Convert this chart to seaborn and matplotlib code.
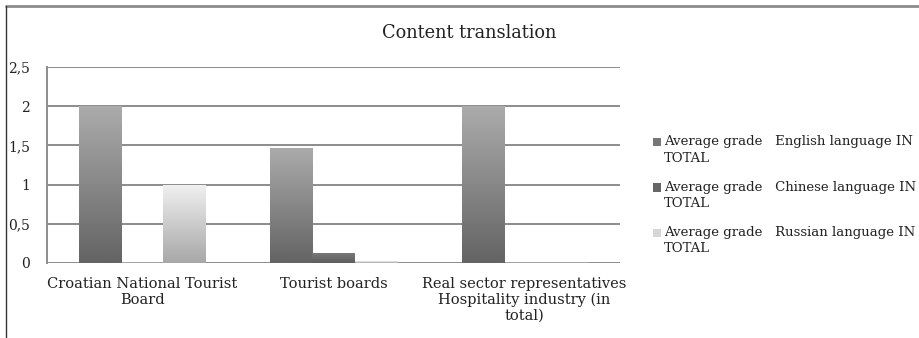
import matplotlib
matplotlib.use("Agg")
import matplotlib.pyplot as plt
import seaborn as sns
import numpy as np
import pandas as pd
from matplotlib.colors import LinearSegmentedColormap
from matplotlib.patches import Patch, Rectangle
from matplotlib.lines import Line2D
from matplotlib.legend_handler import HandlerPatch

groups = ["Croatian National Tourist\nBoard", "Tourist boards",
          "Real sector representatives\nHospitality industry (in\ntotal)"]
series = ["Average grade   English language IN\nTOTAL",
          "Average grade   Chinese language IN\nTOTAL",
          "Average grade   Russian language IN\nTOTAL"]
english = [2.0, 1.47, 2.0]
chinese = [0.0, 0.13, 0.0]
russian = [1.0, 0.02, 0.0]
yticks = [0, 0.5, 1, 1.5, 2, 2.5]
ytick_labels = ["0", "0,5", "1", "1,5", "2", "2,5"]

# gradient (bottom, top) per series and flat legend colours
grads = [("#646464", "#ababab"), ("#5e5e5e", "#7a7a7a"), ("#a8a8a8", "#f0f0f0")]
legend_cols = ["#777777", "#666666", "#d6d6d6"]

df = pd.DataFrame({
    "group": groups * 3,
    "series": [series[0]] * 3 + [series[1]] * 3 + [series[2]] * 3,
    "value": english + chinese + russian,
})


class TopSquare(HandlerPatch):
    # puts the legend square next to the first line of a two-line label
    def create_artists(self, legend, orig_handle, xdescent, ydescent,
                       width, height, fontsize, trans):
        p = Rectangle((-xdescent, -ydescent + 0.62 * fontsize), width, height,
                      facecolor=orig_handle.get_facecolor(), edgecolor="none",
                      transform=trans)
        return [p]


sns.set_style("white")
plt.rcParams['font.family'] = ['DejaVu Serif']

fig = plt.figure(figsize=(9.2, 3.38), dpi=100)
ax = fig.add_axes([0.051, 0.222, 0.623, 0.58])
sns.barplot(data=df, x="group", y="value", hue="series", order=groups,
            hue_order=series, width=0.66, palette=legend_cols, ax=ax,
            legend=False, saturation=1)

# paint gradients into the bars
for i, cont in enumerate(ax.containers):
    cmap = LinearSegmentedColormap.from_list("g%d" % i, list(grads[i]))
    for bar in cont:
        h = bar.get_height()
        if h <= 0:
            continue
        x0 = bar.get_x()
        w = bar.get_width()
        img = ax.imshow(np.linspace(0, 1, 64).reshape(-1, 1), cmap=cmap,
                        origin="lower", extent=[x0, x0 + w, 0, h],
                        aspect="auto", zorder=3)
        img.set_clip_path(bar)
        bar.set_facecolor("none")
        bar.set_edgecolor("none")
ax.set_xlim(-0.5, 2.5)
ax.set_ylim(0, 2.5)

ax.set_yticks(yticks)
ax.set_yticklabels(ytick_labels)
ax.yaxis.grid(True, color="#8c8c8c", linewidth=1.4)
ax.set_axisbelow(True)
for s in ["top", "right", "bottom"]:
    ax.spines[s].set_visible(False)
ax.spines["left"].set_color("#8c8c8c")
ax.spines["left"].set_linewidth(1.4)
ax.tick_params(axis="both", length=0, colors="#222222")
ax.tick_params(axis="y", pad=12, labelsize=10)
ax.tick_params(axis="x", pad=10, labelsize=10.5)
for t in ax.get_xticklabels():
    t.set_linespacing(1.15)
ax.set_xlabel("")
ax.set_ylabel("")

fig.text(0.51, 0.902, "Content translation", ha="center", va="center",
         fontsize=12.8, color="#222222")

handles = [Patch(facecolor=c, edgecolor="none") for c in legend_cols]
leg = fig.legend(handles, series, loc="upper left", bbox_to_anchor=(0.697, 0.635),
                 frameon=False, fontsize=9.5, handlelength=0.6, handleheight=0.6,
                 handletextpad=0.25, labelspacing=1.2, labelcolor="#222222",
                 handler_map={Patch: TopSquare()})
for t in leg.get_texts():
    t.set_linespacing(1.35)

# outer frame
fig.add_artist(Line2D([0.007, 1.0], [0.982, 0.982], color="#8c8c8c",
                      linewidth=2, transform=fig.transFigure))
fig.add_artist(Line2D([0.007, 0.007], [0.0, 0.982], color="#333333",
                      linewidth=1, transform=fig.transFigure))

fig.savefig("out.png", dpi=100)
